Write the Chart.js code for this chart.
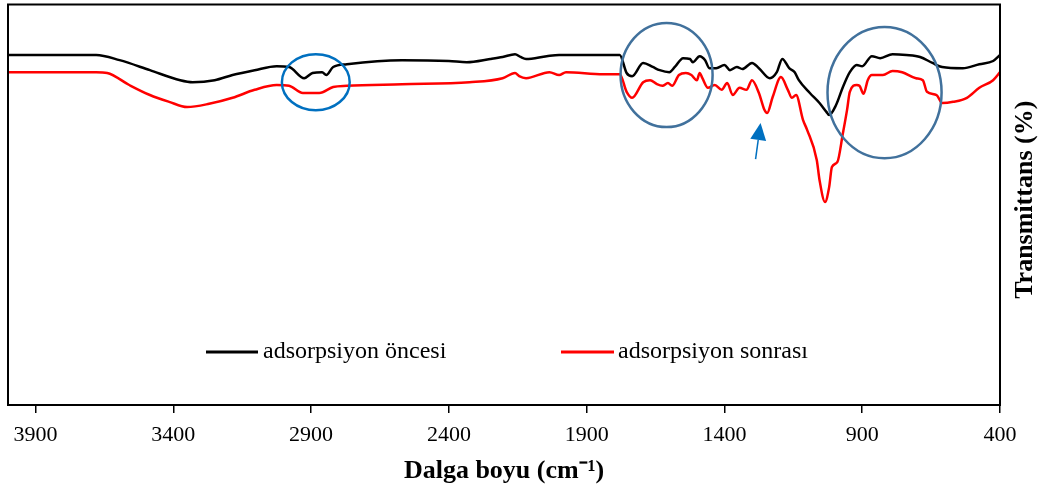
<!DOCTYPE html>
<html><head><meta charset="utf-8">
<script src="https://cdn.jsdelivr.net/npm/chart.js@4.4.1/dist/chart.umd.min.js"></script>
<style>html,body{margin:0;padding:0;background:#fff}#wrap{width:1039px;height:488px;position:relative}</style>
</head><body><div id="wrap"><canvas id="c"></canvas></div>
<script>
// ---- data ----
const tickValues = [3900, 3400, 2900, 2400, 1900, 1400, 900, 400];
const seriesLabels = ['adsorpsiyon öncesi', 'adsorpsiyon sonrası'];
const xTitle = 'Dalga boyu (cm⁻¹)';
const yTitle = 'Transmittans (%)';

const wnBefore = [4000,3810,3680,3595,3485,3375,3330,3250,3185,3105,3025,2980,2925,2895,2860,2845,2820,2770,2570,2400,2335,2250,2205,2160,2140,2120,2045,2000,1890,1780,1755,1735,1695,1660,1635,1600,1580,1550,1525,1515,1490,1470,1455,1430,1400,1380,1355,1335,1300,1275,1235,1210,1190,1165,1145,1130,1090,1055,1030,1020,995,970,945,920,900,865,835,790,740,690,645,610,535,475,425,400];
const tBefore = [87.4,87.4,87.4,86.1,83.6,81.1,80.6,81.1,82.4,83.6,84.6,84.4,81.6,82.9,83.1,82.4,84.4,85.1,86.1,85.9,85.6,86.4,86.9,87.6,86.9,86.4,87.1,87.4,87.4,87.4,82.9,82.1,85.4,84.4,83.6,83.1,84.4,86.6,86.4,85.6,87.1,86.1,84.1,84.1,84.9,83.6,84.4,83.9,85.4,84.1,81.6,83.1,86.4,84.1,83.1,81.1,77.9,75.4,73.2,72.4,74.9,79.4,83.1,84.9,84.6,87.1,86.6,87.6,87.4,86.9,85.4,84.4,84.1,85.1,85.9,87.4];

const wnAfter = [4000,3680,3640,3560,3485,3415,3350,3270,3185,3105,3025,2980,2930,2870,2820,2770,2570,2325,2205,2160,2145,2120,2035,2000,1975,1840,1780,1755,1735,1695,1670,1645,1625,1605,1590,1565,1540,1520,1500,1490,1480,1460,1435,1410,1390,1370,1345,1320,1300,1275,1255,1245,1225,1195,1170,1155,1140,1115,1100,1065,1055,1035,1020,1010,990,970,955,945,920,910,895,880,865,825,790,755,705,680,665,630,610,570,520,475,425,400];
const tAfter = [83.1,83.1,82.9,79.9,77.4,75.7,74.4,75.2,76.7,78.7,79.9,79.7,77.9,77.9,79.4,79.7,80.1,80.6,81.6,82.9,82.1,81.6,83.1,82.4,83.1,82.6,82.6,78.2,76.7,80.6,81.1,80.1,79.7,80.4,79.7,82.4,82.9,82.4,81.1,82.9,81.6,79.2,79.9,78.7,80.4,77.4,79.2,78.7,81.1,77.9,73.7,72.9,76.9,81.9,78.7,76.7,77.4,71.2,68.7,61.2,56.2,50.7,54.4,59.4,60.7,67.9,73.7,78.2,79.9,79.7,77.7,81.1,82.4,82.4,83.4,83.1,81.6,81.1,78.2,77.4,75.4,75.7,76.7,79.2,81.1,83.1];

// ---- annotations (data coordinates) ----
const annotations = {
  ellipses: [
    {cx: 2883, cy: 80.6, rx: 123, ry: 7.0, color: '#0070C0'},
    {cx: 1610, cy: 82.4, rx: 167, ry: 13.0, color: '#41719C'},
    {cx: 819, cy: 78.0, rx: 207, ry: 16.4, color: '#41719C'}
  ],
  arrow: {x0: 1287, y0: 61.4, x1: 1269, y1: 70.4, color: '#0070C0'}
};

const toPts = (xs, ys) => xs.map((x, i) => ({x: x, y: ys[i]}));

const decor = {
  id: 'decor',
  afterDatasetsDraw(chart) {
    const {ctx, chartArea: a, scales: {x, y}} = chart;
    ctx.save();
    // frame
    ctx.strokeStyle = '#000';
    ctx.lineWidth = 2;
    ctx.strokeRect(a.left, a.top, a.right - a.left, a.bottom - a.top);
    // ellipses
    annotations.ellipses.forEach(e => {
      const cx = x.getPixelForValue(e.cx), cy = y.getPixelForValue(e.cy);
      const rx = Math.abs(x.getPixelForValue(e.cx + e.rx) - cx);
      const ry = Math.abs(y.getPixelForValue(e.cy + e.ry) - cy);
      ctx.beginPath();
      ctx.ellipse(cx, cy, rx, ry, 0, 0, Math.PI * 2);
      ctx.strokeStyle = e.color;
      ctx.lineWidth = 2.5;
      ctx.stroke();
    });
    // arrow
    const ar = annotations.arrow;
    const ax0 = x.getPixelForValue(ar.x0), ay0 = y.getPixelForValue(ar.y0);
    const ax1 = x.getPixelForValue(ar.x1), ay1 = y.getPixelForValue(ar.y1);
    const ang = Math.atan2(ay1 - ay0, ax1 - ax0);
    const headLen = 17, headW = 8;
    const bx = ax1 - Math.cos(ang) * headLen, by = ay1 - Math.sin(ang) * headLen;
    ctx.strokeStyle = ar.color; ctx.fillStyle = ar.color; ctx.lineWidth = 1.5;
    ctx.beginPath(); ctx.moveTo(ax0, ay0); ctx.lineTo(bx, by); ctx.stroke();
    ctx.beginPath();
    ctx.moveTo(ax1, ay1);
    ctx.lineTo(bx + Math.sin(ang) * headW, by - Math.cos(ang) * headW);
    ctx.lineTo(bx - Math.sin(ang) * headW, by + Math.cos(ang) * headW);
    ctx.closePath(); ctx.fill();
    // legend
    const ly = 352;
    const items = [{x0: 206, x1: 258, tx: 263}, {x0: 561, x1: 614, tx: 618}];
    ctx.font = '24px "Liberation Serif", "Times New Roman", serif';
    ctx.textBaseline = 'middle'; ctx.textAlign = 'left';
    chart.data.datasets.forEach((ds, i) => {
      const it = items[i];
      ctx.strokeStyle = ds.borderColor; ctx.lineWidth = 3;
      ctx.beginPath(); ctx.moveTo(it.x0, ly); ctx.lineTo(it.x1, ly); ctx.stroke();
      ctx.fillStyle = '#000';
      ctx.fillText(ds.label, it.tx, ly);
    });
    // y title (right side, reading bottom-to-top)
    ctx.translate(1025, (a.top + a.bottom) / 2 - 5);
    ctx.rotate(-Math.PI / 2);
    ctx.font = 'bold 26px "Liberation Serif", "Times New Roman", serif';
    ctx.textAlign = 'center'; ctx.textBaseline = 'middle';
    ctx.fillStyle = '#000';
    ctx.fillText(yTitle, 0, 0);
    ctx.restore();
  }
};

new Chart(document.getElementById('c'), {
  type: 'line',
  data: {
    datasets: [
      {label: seriesLabels[0], data: toPts(wnBefore, tBefore), borderColor: '#000000', borderWidth: 2.5, pointRadius: 0, fill: false, cubicInterpolationMode: 'monotone'},
      {label: seriesLabels[1], data: toPts(wnAfter, tAfter), borderColor: '#FF0000', borderWidth: 2.5, pointRadius: 0, fill: false, cubicInterpolationMode: 'monotone'}
    ]
  },
  options: {
    responsive: true,
    maintainAspectRatio: false,
    animation: false,
    layout: {padding: {left: 8, top: 4.5, right: 0, bottom: 0}},
    plugins: {legend: {display: false}, tooltip: {enabled: false}},
    scales: {
      x: {
        type: 'linear', reverse: true, min: 400, max: 4000,
        afterBuildTicks: s => { s.ticks = tickValues.map(v => ({value: v})); },
        afterFit: s => { s.height = 83; },
        grid: {display: true, drawOnChartArea: false, drawTicks: true, tickLength: 8, color: '#000', lineWidth: 1.5},
        border: {display: false},
        ticks: {color: '#000', font: {family: 'Liberation Serif', size: 22}, padding: 9, maxRotation: 0, autoSkip: false, callback: v => String(v)},
        title: {display: true, text: xTitle, color: '#000', font: {family: 'Liberation Serif', size: 26, weight: 'bold'}, padding: {top: 0, bottom: 1}}
      },
      y: {
        position: 'right', min: 0, max: 100,
        afterFit: s => { s.width = 39; },
        grid: {display: false}, border: {display: false},
        ticks: {display: false}
      }
    }
  },
  plugins: [decor]
});
</script>
</body></html>
